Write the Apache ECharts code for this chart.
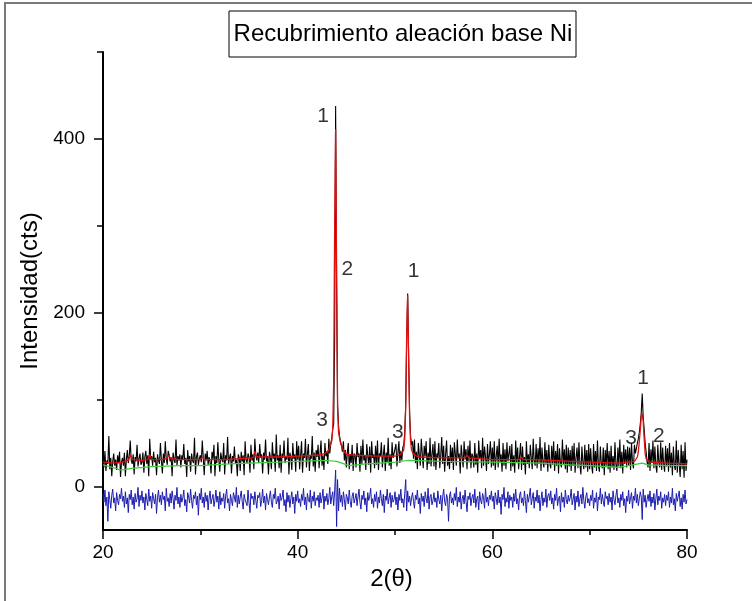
<!DOCTYPE html>
<html><head><meta charset="utf-8">
<script src="https://cdn.jsdelivr.net/npm/echarts@6/dist/echarts.min.js"></script>
<style>html,body{margin:0;padding:0;background:#fff}#c{width:752px;height:601px}</style>
</head><body><div id="c"></div>
<script>
// 2θ sampling of the measured pattern
const angleStart = 20, angleStep = 0.1;
// observed counts (black), one value every 0.1°, rows of 2°
const observed = [
35,22,41,18,30,26,58,20,33,12,29,38,24,31,19,36,27,40,11,28,
33,24,39,12,31,42,27,35,53,30,26,37,14,34,29,48,23,32,38,25,
28,39,16,34,41,26,36,12,55,31,35,24,40,28,33,13,37,30,26,50,
30,15,38,27,52,32,25,41,36,29,34,12,39,31,27,54,24,35,30,37,
22,36,31,49,26,33,11,42,29,35,17,38,30,27,56,14,34,39,25,32,
36,28,53,33,13,38,30,41,25,34,29,15,40,32,48,12,35,27,51,30,
17,39,32,28,50,14,36,30,57,26,33,38,15,35,29,46,27,31,12,37,
33,18,40,29,36,13,52,31,27,38,34,16,48,30,37,20,55,36,30,39,
27,49,33,37,15,39,31,54,29,35,14,40,34,20,51,32,38,17,60,30,
36,21,48,16,38,33,53,27,35,31,56,14,39,34,19,50,32,37,17,52,
31,47,20,36,52,16,38,33,55,22,37,49,18,35,32,58,23,39,17,42,
34,48,21,38,53,24,36,19,50,35,40,26,55,38,50,55,66,72,170,438,
230,95,70,58,52,47,40,52,30,42,22,39,50,20,37,27,48,18,38,35,
22,50,34,38,17,47,26,54,30,36,19,49,35,25,46,16,52,33,37,21,
47,25,53,19,38,35,51,22,36,48,18,39,28,56,24,37,20,51,33,38,
36,49,23,39,52,27,41,30,45,48,62,95,170,222,150,85,58,48,52,32,
54,27,40,20,50,36,24,55,38,21,47,35,52,19,39,26,56,23,37,49,
23,52,19,38,34,50,21,36,57,26,47,17,37,53,24,35,20,48,27,45,
19,51,37,24,54,33,38,15,48,35,22,52,31,43,20,47,28,53,21,38,
35,22,50,25,38,16,53,33,42,21,56,24,46,34,18,49,26,37,52,22,
45,24,52,19,35,47,22,55,28,37,17,50,24,43,20,51,29,31,47,18,
49,23,36,16,53,28,45,20,35,50,19,46,25,34,14,52,26,37,21,48,
33,20,55,29,24,49,21,44,26,57,18,45,28,22,51,25,42,17,48,27,
21,47,25,52,18,41,24,49,15,44,27,22,54,25,43,20,48,16,45,23,
42,18,47,24,50,16,33,45,21,51,25,14,46,28,20,48,22,42,17,49,
20,44,25,15,49,22,41,18,53,24,17,46,26,21,45,13,42,24,50,20,
41,16,47,22,35,19,51,25,18,45,23,54,21,40,15,48,26,43,22,46,
24,45,19,50,27,21,48,38,44,50,55,62,72,85,107,80,66,50,40,28,
22,50,18,43,27,53,21,46,24,16,48,28,22,51,19,45,26,17,47,23,
44,17,50,22,39,13,46,24,19,53,16,42,25,11,48,20,41,10,51,18,
31];
// difference curve (blue), same sampling
const residual = [
-8,-18,-4,-22,-12,-40,-6,-15,-25,-10,-3,-19,-13,-28,-7,-16,-21,-9,-14,-2,
-17,-11,-24,-6,-20,-13,-30,-9,-15,-4,-21,-12,-26,-8,-18,-14,-1,-23,-10,-16,
-5,-19,-12,-27,-8,-15,-22,-3,-17,-11,-25,-7,-14,-20,-9,-31,-13,-4,-18,-10,
-21,-6,-15,-11,-28,-2,-17,-13,-23,-8,-19,-5,-14,-26,-10,-16,-1,-20,-12,-24,
-9,-18,-13,-4,-22,-15,-29,-7,-12,-19,-3,-16,-25,-10,-14,-6,-21,-11,-33,-8,
-15,-2,-19,-12,-24,-7,-17,-10,-27,-13,-5,-20,-14,-9,-23,-16,-4,-18,-11,-26,
-6,-21,-13,-17,-8,-25,-11,-3,-19,-14,-28,-9,-16,-22,-7,-12,-18,-1,-24,-10,
-20,-12,-5,-17,-26,-9,-15,-13,-22,-4,-18,-30,-8,-14,-11,-21,-6,-16,-25,-10,
-13,-7,-23,-16,-3,-19,-11,-27,-8,-15,-21,-12,-5,-18,-24,-9,-14,-2,-20,-17,
-11,-26,-8,-16,-13,-4,-22,-15,-29,-7,-18,-10,-24,-14,-6,-20,-12,-31,-9,-17,
-5,-19,-14,-23,-9,-16,-2,-21,-12,-27,-8,-15,-18,-4,-25,-11,-17,-6,-22,-13,
-16,-10,-24,-7,-19,-13,-3,-26,-11,-17,-8,-21,-14,-1,-20,-12,-6,-22,-5,19,
-46,8,-28,-2,-18,-10,-23,-6,-15,-27,-9,-13,-20,-4,-17,-24,-11,-7,-19,-14,
-8,-22,-12,-3,-18,-26,-10,-15,-5,-21,-13,-29,-7,-16,-11,-2,-20,-14,-24,-9,
-17,-6,-25,-12,-19,-4,-14,-22,-9,-30,-11,-16,-3,-20,-13,-7,-24,-10,-18,-15,
-6,-21,-12,-27,-9,-16,-3,-19,-14,-24,-8,8,-28,-5,-18,-11,-22,-13,-7,-17,
-25,-10,-15,-4,-20,-13,-31,-8,-17,-11,-23,-6,-14,-19,-2,-26,-12,-9,-21,-16,
-7,-18,-13,-24,-5,-15,-20,-10,-28,-12,-3,-17,-22,-9,-14,-40,-11,-6,-19,-13,
-21,-8,-16,-1,-23,-12,-18,-6,-26,-14,-10,-20,-4,-17,-29,-11,-15,-7,-22,-13,
-9,-19,-3,-24,-14,-11,-27,-6,-16,-20,-8,-13,-25,-2,-18,-12,-22,-10,-15,-5,
-17,-11,-26,-7,-14,-21,-4,-19,-12,-32,-9,-15,-1,-23,-13,-18,-6,-25,-10,-16,
-12,-24,-8,-17,-3,-20,-14,-27,-10,-6,-19,-13,-22,-5,-16,-30,-9,-18,-11,-2,
-21,-14,-7,-25,-12,-17,-4,-19,-10,-28,-15,-6,-22,-13,-18,-3,-24,-11,-8,-16,
-5,-20,-13,-26,-9,-16,-2,-22,-14,-11,-29,-7,-18,-12,-24,-4,-15,-20,-10,-17,
-13,-3,-21,-15,-8,-27,-11,-18,-5,-23,-14,-9,-20,-1,-16,-25,-12,-7,-19,-14,
-22,-10,-16,-4,-25,-13,-18,-7,-28,-12,-15,-2,-20,-9,-17,-23,-6,-14,-11,-21,
-8,-18,-12,-27,-5,-15,-21,-10,-3,-19,-13,-24,-9,-16,-6,-22,-14,-30,-11,-17,
-4,-20,-13,-7,-25,-11,-16,-2,-19,-9,-22,-14,-6,-12,-38,-3,-18,-10,-24,-15,
-9,-17,-5,-23,-12,-19,-8,-27,-14,-3,-21,-11,-16,-6,-25,-13,-18,-9,-22,-10,
-16,-6,-24,-12,-19,-2,-21,-14,-28,-8,-17,-11,-5,-23,-13,-26,-9,-18,-4,-20,
-15];
// fitted profile (red)
const fitAngle = [20,21,22,22.6,22.8,23.0,24,24.6,24.8,25.0,26,26.5,26.7,27.0,28,30,30.2,30.4,32,34,
  35.4,35.6,35.8,38,40,42,42.8,43.2,43.5,43.6,43.7,43.8,43.9,44.0,44.1,44.2,44.4,44.6,45.0,46,
  48,50,50.6,50.9,51.0,51.1,51.2,51.3,51.4,51.5,51.6,51.7,51.9,52.4,55,57.2,57.4,57.6,60,62.8,
  63.0,63.2,63.8,64.0,64.2,66,70,73,74.6,74.9,75.0,75.1,75.2,75.3,75.4,75.5,75.6,75.7,75.8,76.2,78,80];
const fitCounts = [28,27,28,30,37,31,30,31,37,31,31,32,36,32,31,31,34,31,31,32,
  33,40,34,34,35,36,38,42,52,66,120,300,411,250,90,62,50,44,37,36,
  35,35,37,42,55,90,175,220,150,80,52,42,37,34,33,33,36,33,31,31,
  34,31,31,33,31,30,28,27,29,34,40,52,65,80,84,75,55,38,32,28,27,26];
// background (green)
const bgAngle = [20,21,21.8,23,25,28,30,33,35,38,40,43,44,45.3,47,50,51.3,55,60,65,68,70,73,75.4,76,78,80];
const bgCounts = [25,22,19,21,23,24,24,26,27,28,29,30,29,24,26,28,30,29,28,27,25,24,22,27,25,24,24];
// phase labels
const peakLabelText = ['1','2','3','1','3','1','3','2'];
const peakLabelAngle = [42.6,45.1,42.5,51.9,50.3,75.5,74.25,77.1];
const peakLabelCounts = [426,250,76,248,62,125,56,58];
// axes
const yMajorTicks = [0,200,400];
const yMinorTicks = [100,300,500];
const titleText = 'Recubrimiento aleación base Ni';
const xName = '2(θ)';
const yName = 'Intensidad(cts)';

const FONT = '"Liberation Sans", Arial, sans-serif';
const obsData = observed.map((v,i)=>[+(angleStart+i*angleStep).toFixed(2), v]);
const resData = residual.map((v,i)=>[+(angleStart+i*angleStep).toFixed(2), v]);
const fitData = fitAngle.map((a,i)=>[a, fitCounts[i]]);
const bgData = bgAngle.map((a,i)=>[a, bgCounts[i]]);
const lblData = peakLabelText.map((t,i)=>({name:t, value:[peakLabelAngle[i], peakLabelCounts[i]]}));

const chart = echarts.init(document.getElementById('c'), null, {renderer:'canvas'});
chart.setOption({
  animation:false,
  backgroundColor:'#fff',
  grid:{left:103, right:65, top:52, bottom:71, containLabel:false},
  xAxis:{type:'value', min:20, max:80, interval:20,
    name:xName, nameLocation:'middle', nameGap:35,
    nameTextStyle:{fontFamily:FONT, fontSize:24, color:'#000', padding:[0,7,0,0]},
    axisLine:{show:true, onZero:false, lineStyle:{color:'#000', width:2}},
    axisTick:{show:true, length:9, lineStyle:{color:'#000', width:1.5}},
    minorTick:{show:true, splitNumber:2, length:5, lineStyle:{color:'#000', width:1.5}},
    axisLabel:{fontFamily:FONT, fontSize:19, color:'#000', margin:13},
    splitLine:{show:false}},
  yAxis:[{type:'value', min:-50, max:500, position:'left',
    name:yName, nameLocation:'middle', nameGap:50, nameRotate:90,
    nameTextStyle:{fontFamily:FONT, fontSize:24, color:'#000'},
    axisLine:{show:true, onZero:false, lineStyle:{color:'#000', width:2}},
    axisTick:{show:true, length:9, customValues:yMajorTicks, lineStyle:{color:'#000', width:1.5}},
    axisLabel:{fontFamily:FONT, fontSize:19, color:'#000', margin:18, customValues:yMajorTicks},
    splitLine:{show:false}},
   {type:'value', min:-50, max:500, position:'left',
    axisLine:{show:false},
    axisTick:{show:true, length:6, customValues:yMinorTicks, lineStyle:{color:'#000', width:1.5}},
    axisLabel:{show:false, customValues:yMinorTicks},
    splitLine:{show:false}}],
  graphic:[
    {type:'rect', shape:{x:5, y:3, width:800, height:700}, style:{fill:'none', stroke:'#7a7a7a', lineWidth:2}, silent:true},
    {type:'rect', shape:{x:229, y:11, width:347, height:46}, style:{fill:'#fff', stroke:'#000', lineWidth:1}, silent:true, z:10},
    {type:'text', x:403, y:34, style:{text:titleText, fill:'#000', font:'24px '+FONT, align:'center', verticalAlign:'middle'}, silent:true, z:11}
  ],
  series:[
    {type:'line', data:resData, showSymbol:false, symbol:'none', lineStyle:{color:'#1c1cb0', width:1}, z:2},
    {type:'line', data:obsData, showSymbol:false, symbol:'none', lineStyle:{color:'#000', width:1.1}, z:3},
    {type:'line', data:bgData, showSymbol:false, symbol:'none', lineStyle:{color:'#3ccc3c', width:1.2}, z:4},
    {type:'line', data:fitData, showSymbol:false, symbol:'none', lineStyle:{color:'#e01010', width:1.3}, z:5},
    {type:'scatter', data:lblData, symbolSize:1, itemStyle:{color:'rgba(0,0,0,0)'}, z:6,
      label:{show:true, position:'inside', formatter:'{b}', fontFamily:FONT, fontSize:21, color:'#000'}}
  ]
});
</script></body></html>
